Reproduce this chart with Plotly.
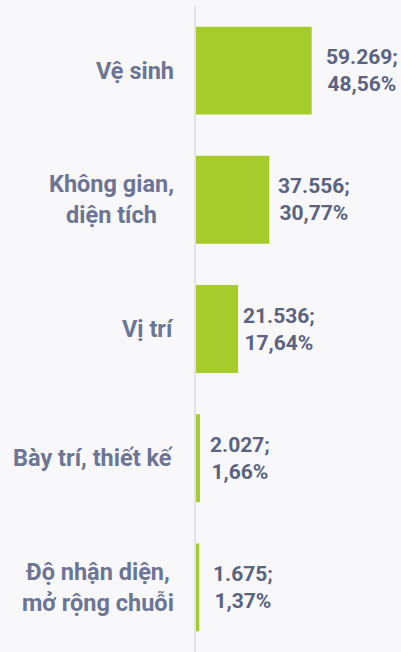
import plotly.graph_objects as go

categories = ["Vệ sinh", "Không gian,<br>diện tích", "Vị trí", "Bày trí, thiết kế", "Độ nhận diện,<br>mở rộng chuỗi"]
values = [59.269, 37.556, 21.536, 2.027, 1.675]
value_text = ["59.269;", "37.556;", "21.536;", "2.027;", "1.675;"]
percent_text = ["48,56%", "30,77%", "17,64%", "1,66%", "1,37%"]

label_shift = [12, 7, 3, 8, 12]

BG = "#f8f8fb"
GREEN = "#a5cc2b"
VAL_COLOR = "#5b6381"
CAT_COLOR = "#6c7593"
FONT = "Roboto"

fig = go.Figure()
fig.add_trace(go.Bar(
    x=values, y=categories, orientation="h",
    marker=dict(color=GREEN, line=dict(width=0)),
    hoverinfo="skip",
))

annotations = []
for c, v, t, p, s in zip(categories, values, value_text, percent_text, label_shift):
    annotations.append(dict(
        x=v, y=c, xref="x", yref="y", text=f"<b>{t}<br>{p}</b>",
        showarrow=False, xanchor="left", yanchor="middle", align="center",
        xshift=s, font=dict(family=FONT, size=21, color=VAL_COLOR),
    ))
    annotations.append(dict(
        x=0, y=c, xref="paper", yref="y", text=f"<b>{c}</b>",
        showarrow=False, xanchor="right", yanchor="middle", align="center",
        xshift=-20, font=dict(family=FONT, size=23.5, color=CAT_COLOR),
    ))

fig.update_layout(
    width=401, height=652,
    margin=dict(l=196, r=0, t=6, b=0),
    paper_bgcolor=BG, plot_bgcolor=BG,
    bargap=0.32,
    showlegend=False,
    annotations=annotations,
    xaxis=dict(range=[0, 105.0], visible=False, fixedrange=True),
    yaxis=dict(autorange="reversed", showticklabels=False, showgrid=False,
               zeroline=False, showline=True, linecolor="#e2e3ea", linewidth=2,
               ticks="", fixedrange=True),
)

fig.write_html("out.html", config={"displayModeBar": False},
               post_script="document.body.style.margin='0';document.body.style.overflow='hidden';")
